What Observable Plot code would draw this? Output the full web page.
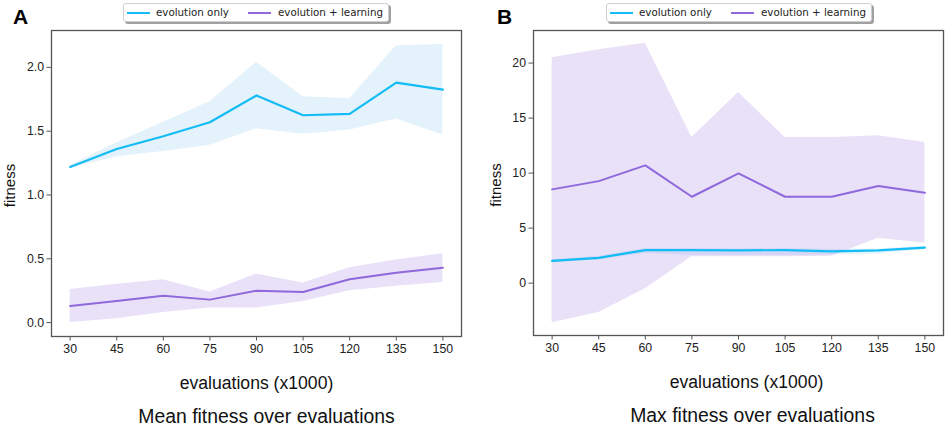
<!DOCTYPE html>
<html><head><meta charset="utf-8">
<script src="https://cdn.jsdelivr.net/npm/d3@7"></script>
<script src="https://cdn.jsdelivr.net/npm/@observablehq/plot@0.6"></script>
<style>
body{margin:0;background:#fff;}
#wrap{position:relative;width:948px;height:426px;overflow:hidden;background:#fff;}
.panel{position:absolute;top:0;}
.legend{position:absolute;top:3px;width:264px;height:17px;border:1px solid #cfcfcf;border-radius:3px;background:#fff;box-shadow:2px 2px 0 #a0a0a0;font-family:"DejaVu Sans";font-size:10.3px;color:#222;}
.legend span{position:absolute;top:0;line-height:17px;white-space:nowrap;}
.legend i{position:absolute;top:8px;width:23px;height:2px;}
</style></head>
<body><div id="wrap"></div>
<script>
const evals = [30, 45, 60, 75, 90, 105, 120, 135, 150];

// Panel A: mean fitness
const evoMeanA  = [1.22, 1.36, 1.46, 1.57, 1.78, 1.625, 1.635, 1.88, 1.825];
const evoLowA   = [1.21, 1.30, 1.34, 1.39, 1.52, 1.475, 1.51, 1.595, 1.47];
const evoHighA  = [1.23, 1.41, 1.57, 1.73, 2.04, 1.77, 1.755, 2.17, 2.18];
const learnMeanA = [0.13, 0.17, 0.21, 0.18, 0.25, 0.24, 0.34, 0.39, 0.43];
const learnLowA  = [0.0, 0.03, 0.08, 0.115, 0.115, 0.165, 0.25, 0.285, 0.315];
const learnHighA = [0.26, 0.30, 0.335, 0.24, 0.38, 0.31, 0.43, 0.49, 0.54];

// Panel B: max fitness
const evoMeanB  = [2.02, 2.30, 3.0, 3.0, 2.98, 3.0, 2.88, 2.98, 3.22];
const evoLowB   = [1.85, 2.1, 2.7, 2.5, 2.5, 2.5, 2.55, 2.65, 3.05];
const evoHighB  = [2.15, 2.45, 3.15, 3.15, 3.1, 3.15, 3.05, 3.1, 3.35];
const learnMeanB = [8.52, 9.27, 10.70, 7.85, 9.97, 7.85, 7.85, 8.82, 8.21];
const learnLowB  = [-3.59, -2.67, -0.52, 2.39, 2.39, 2.39, 2.45, 4.08, 3.62];
const learnHighB = [20.48, 21.2, 21.79, 13.24, 17.33, 13.24, 13.24, 13.39, 12.79];

const yTicksA = [0, 0.5, 1.0, 1.5, 2.0];
const yTicksB = [0, 5, 10, 15, 20];
const seriesNames = ["evolution only", "evolution + learning"];
const BLUE = "#12bcf5", PURPLE = "#8f68db", BLUEBAND = "#4aa8e8";

function rows(mean, low, high) {
  return evals.map((e, i) => ({x: e, m: mean[i], lo: low[i], hi: high[i]}));
}

function panel(cfg) {
  const evo = rows(cfg.evoMean, cfg.evoLow, cfg.evoHigh);
  const learn = rows(cfg.learnMean, cfg.learnLow, cfg.learnHigh);
  return Plot.plot({
    width: 474, height: 426,
    marginLeft: cfg.ml, marginRight: cfg.mr, marginTop: 30, marginBottom: cfg.mb,
    style: {background: "transparent", color: "#333"},
    x: {domain: [24, 156]},
    y: {domain: cfg.ydomain},
    marks: [
      Plot.areaY(evo, {x: "x", y1: "lo", y2: "hi", fill: BLUEBAND, fillOpacity: 0.15}),
      Plot.areaY(learn, {x: "x", y1: "lo", y2: "hi", fill: PURPLE, fillOpacity: 0.2}),
      Plot.lineY(learn, {x: "x", y: "m", stroke: PURPLE, strokeWidth: 2}),
      Plot.lineY(evo, {x: "x", y: "m", stroke: BLUE, strokeWidth: 2.2}),
      Plot.frame({stroke: "#555", strokeWidth: 1.3}),
      Plot.axisX({ticks: evals, tickSize: 4.5, tickPadding: 3, label: null, fontFamily: "Liberation Sans", fontSize: 12.3, stroke: "#555", fill: "#222"}),
      Plot.axisY({ticks: cfg.yticks, tickFormat: cfg.yfmt, tickSize: 4.5, tickPadding: 3, label: null, fontFamily: "Liberation Sans", fontSize: 12.3, stroke: "#555", fill: "#222"}),
      Plot.text(["evaluations (x1000)"], {text: d => d, frameAnchor: "bottom", dy: 47, dx: cfg.tdx, textAnchor: "middle", lineAnchor: "middle", fontFamily: "Liberation Sans", fontSize: 17.6, fill: "#111"}),
      Plot.text([cfg.caption], {text: d => d, frameAnchor: "bottom", dy: 80, dx: cfg.cdx, textAnchor: "middle", lineAnchor: "middle", fontFamily: "Liberation Sans", fontSize: 19.4, fill: "#111"}),
      Plot.text(["fitness"], {text: d => d, frameAnchor: "left", dx: cfg.fdx, dy: 2, rotate: -90, textAnchor: "middle", lineAnchor: "middle", fontFamily: "Liberation Sans", fontSize: 15, fill: "#111"}),
      Plot.text([cfg.letter], {text: d => d, frameAnchor: "top-left", dx: cfg.ldx, dy: -13, textAnchor: "middle", lineAnchor: "middle", fontFamily: "Liberation Sans", fontWeight: "bold", fontSize: 21, fill: "#000"})
    ]
  });
}

const wrap = document.getElementById("wrap");
const cfgs = [
  {left: 0, ml: 51, mr: 13, mb: 90, ydomain: [-0.109, 2.289], yticks: yTicksA, yfmt: d3.format(".1f"),
   evoMean: evoMeanA, evoLow: evoLowA, evoHigh: evoHighA, learnMean: learnMeanA, learnLow: learnLowA, learnHigh: learnHighA,
   caption: "Mean fitness over evaluations", tdx: 0, cdx: 10, fdx: -41, ldx: -31, letter: "A", legendLeft: 123},
  {left: 474, ml: 59, mr: 5, mb: 91, ydomain: [-4.76, 22.96], yticks: yTicksB, yfmt: d3.format("d"),
   evoMean: evoMeanB, evoLow: evoLowB, evoHigh: evoHighB, learnMean: learnMeanB, learnLow: learnLowB, learnHigh: learnHighB,
   caption: "Max fitness over evaluations", tdx: 8, cdx: 14, fdx: -37, ldx: -29, letter: "B", legendLeft: 606}
];
for (const c of cfgs) {
  const p = panel(c);
  const d = document.createElement("div");
  d.className = "panel";
  d.style.left = c.left + "px";
  d.appendChild(p);
  wrap.appendChild(d);
  const lg = document.createElement("div");
  lg.className = "legend";
  lg.style.left = c.legendLeft + "px";
  const colors = [BLUE, PURPLE];
  const swLeft = [3, 124], txLeft = [32, 154];
  seriesNames.forEach((n, i) => {
    const sw = document.createElement("i");
    sw.style.left = swLeft[i] + "px";
    sw.style.background = colors[i];
    lg.appendChild(sw);
    const t = document.createElement("span");
    t.style.left = txLeft[i] + "px";
    t.textContent = n;
    lg.appendChild(t);
  });
  wrap.appendChild(lg);
}
</script>
</body></html>
